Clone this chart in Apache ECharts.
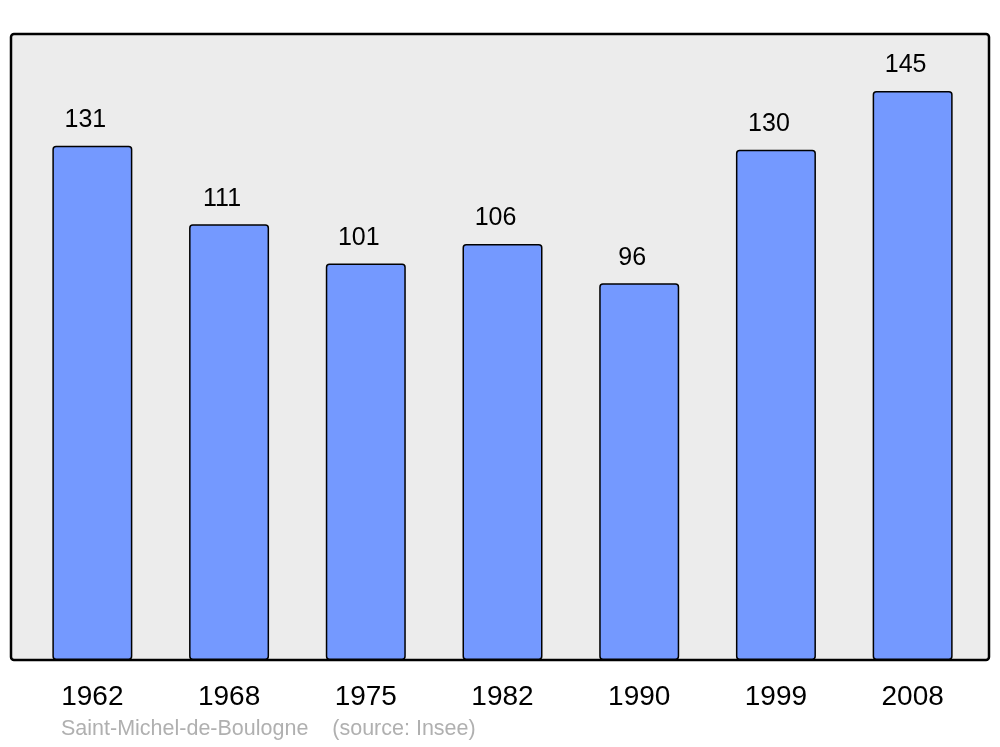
<!DOCTYPE html>
<html>
<head>
<meta charset="utf-8">
<script src="https://cdn.jsdelivr.net/npm/echarts@6/dist/echarts.min.js"></script>
<style>html,body{margin:0;padding:0;background:#fff;}#c{width:1000px;height:747px;}</style>
</head>
<body>
<div id="c"></div>
<script>
const years = ['1962','1968','1975','1982','1990','1999','2008'];
const population = [131, 111, 101, 106, 96, 130, 145];
const sourceText = 'Saint-Michel-de-Boulogne    (source: Insee)';

const chart = echarts.init(document.getElementById('c'), null, {renderer: 'canvas'});
chart.setOption({
  animation: false,
  backgroundColor: '#ffffff',
  textStyle: {fontFamily: 'Liberation Sans, Arial, sans-serif'},
  grid: {left: 24, right: 19, top: 34, bottom: 87, containLabel: false},
  graphic: [
    {type: 'rect', z: -10, shape: {x: 11, y: 34, width: 978, height: 626, r: 3},
     style: {fill: '#ececec', stroke: '#000', lineWidth: 2.5}},
    {type: 'text', left: 61, top: 718, z: 10,
     style: {text: sourceText, fill: '#b0b0b0', font: '21.5px "Liberation Sans", Arial, sans-serif'}}
  ],
  xAxis: {
    type: 'category', data: years, boundaryGap: true,
    axisLine: {show: false}, axisTick: {show: false},
    axisLabel: {color: '#000', fontSize: 28, margin: 23, fontFamily: 'Liberation Sans'}
  },
  yAxis: {
    type: 'value', min: 0, max: 159.5, show: false,
    splitLine: {show: false}
  },
  series: [{
    type: 'bar', data: population, barWidth: 80,
    itemStyle: {color: '#7499ff', borderColor: '#000', borderWidth: 1.5, borderRadius: 3},
    label: {show: true, position: 'top', distance: 13, offset: [-7, 0],
      color: '#000', fontSize: 25, fontFamily: 'Liberation Sans'}
  }]
});
</script>
</body>
</html>
